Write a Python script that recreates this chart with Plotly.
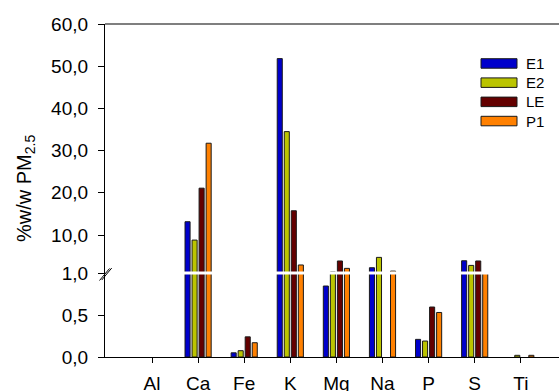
import plotly.graph_objects as go

elements = ["Al", "Ca", "Fe", "K", "Mg", "Na", "P", "S", "Ti"]
series_names = ["E1", "E2", "LE", "P1"]
E1 = [0, 13.15, 0.05, 51.8, 0.845, 2.25, 0.21, 3.9, 0]
E2 = [0, 8.8, 0.075, 34.5, 1.25, 4.7, 0.19, 2.8, 0.02]
LE = [0, 21.1, 0.24, 15.75, 3.85, 0, 0.595, 3.85, 0]
P1 = [0, 31.75, 0.17, 2.9, 2.1, 1.45, 0.53, 1.0, 0.02]
series_values = [E1, E2, LE, P1]
colors = ["#0000CC", "#BBC400", "#640000", "#FF8000"]

lower_ticks = [0.0, 0.5, 1.0]
upper_ticks = [10, 20, 30, 40, 50, 60]
break_value = 1.0

W, H = 559, 391
ML, MR, MT, MB = 105, 0, 24, 34
PW, PH = W - ML - MR, H - MT - MB
lower_px = 84
split = lower_px / PH

FONT = "Liberation Sans, Arial, sans-serif"


def fmt(v):
    return f"{v:.1f}".replace(".", ",")


fig = go.Figure()
for name, vals, col in zip(series_names, series_values, colors):
    fig.add_trace(go.Bar(
        x=elements, y=[min(v, break_value) if v > 0 else None for v in vals], name=name,
        marker=dict(color=col, line=dict(color="#1a1a1a", width=1)),
        xaxis="x", yaxis="y", showlegend=False))
    fig.add_trace(go.Bar(
        x=elements, y=[v if v > break_value else None for v in vals], name=name,
        marker=dict(color=col, line=dict(color="#1a1a1a", width=1)),
        xaxis="x2", yaxis="y2", showlegend=False))

xr = [-(152 - ML) / 46.1, (W - 152) / 46.1]
common_x = dict(range=xr, type="category", categoryorder="array", categoryarray=elements)

shapes = []
annotations = []


def px_x(p):
    return (p - ML) / PW


def px_y(p):
    return (H - MB - p) / PH


# top border
shapes.append(dict(type="line", xref="paper", yref="paper", x0=0, x1=1, y0=1, y1=1,
                   line=dict(color="black", width=1.2)))
# white break gap through bars
shapes.append(dict(type="line", xref="paper", yref="paper", x0=px_x(107), x1=1,
                   y0=split, y1=split, line=dict(color="white", width=3), layer="above"))
# break slashes on axis
for off in (0, 2.2):
    shapes.append(dict(type="line", xref="paper", yref="paper",
                       x0=px_x(99.5 + off), y0=px_y(280.5 - off * 0.2),
                       x1=px_x(109.5 + off), y1=px_y(268.5 - off * 0.2),
                       line=dict(color="black", width=1)))

# manual legend
for i, (name, col) in enumerate(zip(series_names, colors)):
    ytop = 58.7 + i * 19.2
    shapes.append(dict(type="rect", xref="paper", yref="paper",
                       x0=px_x(481), x1=px_x(517), y0=px_y(ytop), y1=px_y(ytop + 9.5),
                       fillcolor=col, line=dict(color="#1a1a1a", width=1)))
    annotations.append(dict(xref="paper", yref="paper", x=px_x(524), y=px_y(ytop + 4.75),
                            text=name, showarrow=False, xanchor="left", yanchor="middle",
                            font=dict(family=FONT, size=15, color="black")))

# y title
annotations.append(dict(xref="paper", yref="paper", x=px_x(25), y=px_y(189),
                        text="%w/w PM<sub>2.5</sub>", textangle=-90, showarrow=False,
                        xanchor="center", yanchor="middle",
                        font=dict(family=FONT, size=20, color="black")))

fig.update_layout(
    width=W, height=H,
    margin=dict(l=ML, r=MR, t=MT, b=MB, pad=0),
    paper_bgcolor="white", plot_bgcolor="white",
    barmode="group", bargap=0.39, bargroupgap=0.28,
    showlegend=False,
    font=dict(family=FONT, size=19, color="black"),
    xaxis=dict(**common_x, anchor="y", domain=[0, 1], showline=True, linecolor="black",
               linewidth=1.2, ticks="outside", ticklen=5, tickcolor="black",
               showgrid=False, zeroline=False, automargin=False,
               ticklabelstandoff=4, tickfont=dict(family=FONT, size=19)),
    xaxis2=dict(**common_x, anchor="y2", matches="x", visible=False),
    yaxis=dict(domain=[0, split], range=[0, break_value], tickvals=lower_ticks,
               ticktext=[fmt(v) for v in lower_ticks], showline=True, linecolor="black",
               linewidth=1.2, ticks="outside", ticklen=6, tickcolor="black",
               showgrid=False, zeroline=False, automargin=False,
               ticklabelstandoff=6, tickfont=dict(family=FONT, size=19)),
    yaxis2=dict(domain=[split, 1], range=[break_value, 60], tickvals=upper_ticks,
                ticktext=[fmt(v) for v in upper_ticks], showline=True, linecolor="black",
                linewidth=1.2, ticks="outside", ticklen=6, tickcolor="black",
                showgrid=False, zeroline=False, automargin=False,
                ticklabelstandoff=6, tickfont=dict(family=FONT, size=19)),
    shapes=shapes, annotations=annotations,
)

fig.write_html("out.html")
